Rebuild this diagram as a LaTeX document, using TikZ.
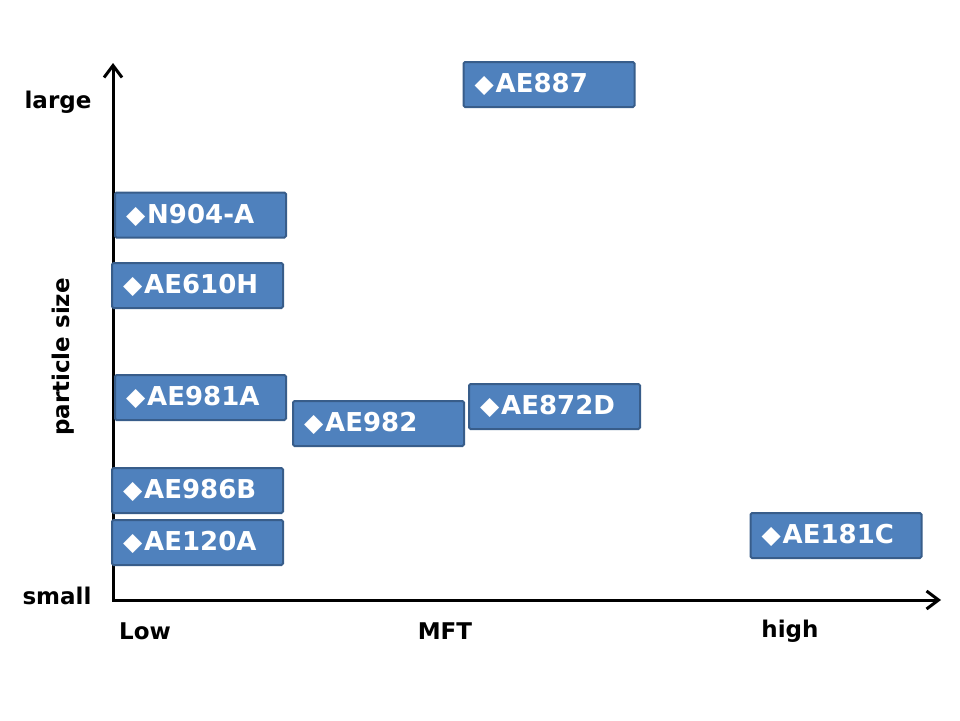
\documentclass[tikz,border=0pt]{standalone}
\usepackage{fontspec}
\setmainfont{DejaVu Sans}
\usetikzlibrary{arrows.meta}
\definecolor{boxfill}{HTML}{4F81BD}
\definecolor{boxline}{HTML}{385D8A}
\newcommand{\diam}{{\fontsize{25}{25}\selectfont◆}\kern2pt}
\tikzset{
  sample/.style={draw=boxline, fill=boxfill, line width=2pt, rounded corners=1.5pt,
    text=white, font=\fontsize{26}{29}\selectfont\bfseries, minimum height=45pt,
    inner xsep=11pt, text width=149pt, align=left},
  axislabel/.style={font=\fontsize{23}{26}\selectfont\bfseries},
  >={Straight Barb[length=12pt,width=18pt]}
}
\begin{document}
\begin{tikzpicture}[x=1pt,y=-1pt]
\useasboundingbox (0,0) rectangle (960,720);
% axes
\coordinate (origin) at (113,600);
\coordinate (ytop) at (113,63);
\coordinate (xend) at (941,600);
\draw[<->, line width=3pt] (ytop) -- (origin) -- (xend);
\node[axislabel] (large) at (58,102) {large};
\node[axislabel] (small) at (57,596) {small};
\node[axislabel, rotate=90] (psize) at (63,357) {particle size};
\node[axislabel] (low) at (145,631) {Low};
\node[axislabel] (mft) at (445,631) {MFT};
\node[axislabel] (high) at (790,631) {high};
% samples
\node[sample] (ae887) at (549,84.5) {\diam AE887};
\node[sample] (n904a) at (200.5,215) {\diam N904-A};
\node[sample] (ae610h) at (197.5,285.5) {\diam AE610H};
\node[sample] (ae981a) at (200.5,397.5) {\diam AE981A};
\node[sample] (ae982) at (378.5,423.5) {\diam AE982};
\node[sample] (ae872d) at (554.5,406.5) {\diam AE872D};
\node[sample] (ae986b) at (197.5,490.5) {\diam AE986B};
\node[sample] (ae120a) at (197.5,542.5) {\diam AE120A};
\node[sample] (ae181c) at (836,535.5) {\diam AE181C};
\end{tikzpicture}
\end{document}
